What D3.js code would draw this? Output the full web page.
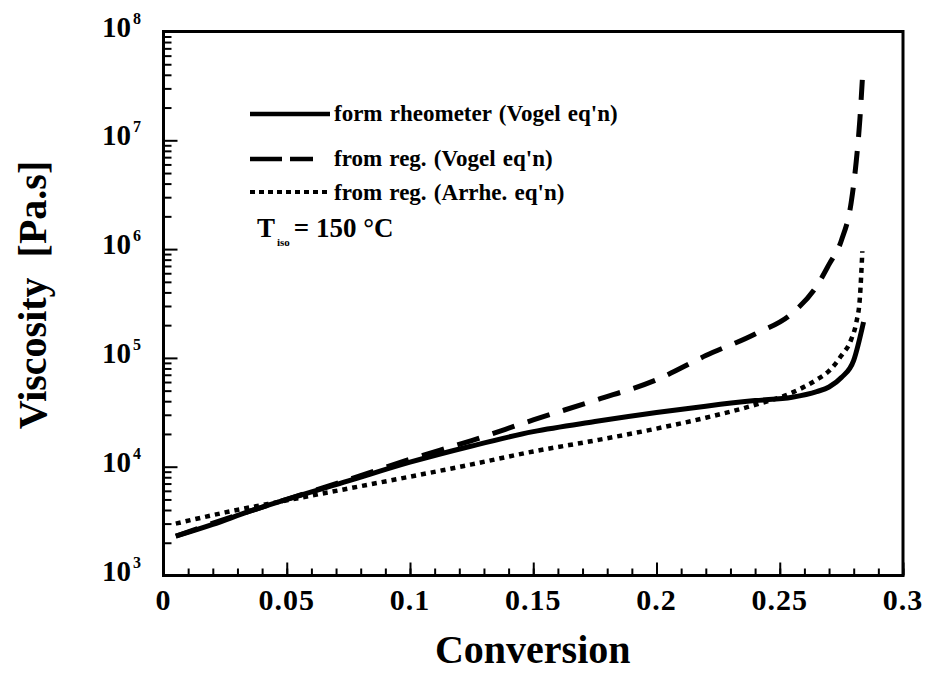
<!DOCTYPE html>
<html>
<head>
<meta charset="utf-8">
<script src="https://cdn.jsdelivr.net/npm/d3@7"></script>
<style>
  body { margin: 0; background: #fff; }
  svg { display: block; font-family: "Liberation Serif", "Times New Roman", serif; font-weight: bold; }
</style>
</head>
<body>
<svg width="928" height="675"></svg>
<script>
// Viscosity vs conversion, T_iso = 150 C
var rheoX = [0.005, 0.02, 0.035, 0.05, 0.075, 0.1, 0.125, 0.15, 0.175, 0.2, 0.22, 0.24, 0.255, 0.265, 0.27, 0.275, 0.28, 0.284];
var rheoVisc = [2300, 2950, 3900, 5000, 7400, 11000, 15500, 21000, 26000, 31500, 36000, 40500, 43500, 49000, 54000, 66000, 95000, 214000];

var vogelX = [0.005, 0.025, 0.05, 0.075, 0.1, 0.125, 0.15, 0.175, 0.2, 0.22, 0.24, 0.255, 0.265, 0.27, 0.275, 0.279, 0.281, 0.2825, 0.2835];
var vogelVisc = [2300, 3300, 5000, 7600, 11700, 17400, 26900, 40700, 63000, 105000, 166000, 257000, 457000, 724000, 1200000, 2700000, 6300000, 15500000, 36000000];

var arrheX = [0.005, 0.025, 0.05, 0.075, 0.1, 0.125, 0.15, 0.175, 0.2, 0.22, 0.24, 0.255, 0.265, 0.27, 0.275, 0.279, 0.281, 0.2825, 0.2835];
var arrheVisc = [3000, 3800, 4900, 6300, 8100, 10500, 13800, 17400, 22400, 28200, 37000, 47900, 63100, 75900, 105000, 148000, 209000, 355000, 955000];

var xTicks = [0, 0.05, 0.1, 0.15, 0.2, 0.25, 0.3];
var yDecades = [3, 4, 5, 6, 7, 8];

var legendLabels = ["form rheometer (Vogel eq'n)", "from reg. (Vogel eq'n)", "from reg. (Arrhe. eq'n)"];

var svg = d3.select("svg");
var plotLeft = 163.5, plotRight = 903, plotTop = 31.5, plotBottom = 575.5;

var x = d3.scaleLinear().domain([0, 0.3]).range([plotLeft, plotRight]);
var y = d3.scaleLog().domain([1e3, 1e8]).range([plotBottom, plotTop]);

// minor ticks
var xMinor = d3.range(0, 31).map(function(i) { return i / 100; });
var yMinor = [];
yDecades.slice(0, -1).forEach(function(k) {
  for (var m = 2; m <= 9; m++) yMinor.push(m * Math.pow(10, k));
});

function styleAxis(g) {
  g.select(".domain").remove();
  g.selectAll("line").attr("stroke", "#000").attr("stroke-width", 2);
  g.selectAll("text").remove();
}

svg.append("g").attr("transform", "translate(0," + plotBottom + ")")
  .call(d3.axisBottom(x).tickValues(xMinor).tickSize(-7)).call(styleAxis);
svg.append("g").attr("transform", "translate(0," + plotBottom + ")")
  .call(d3.axisBottom(x).tickValues(xTicks).tickSize(-13)).call(styleAxis);
svg.append("g").attr("transform", "translate(" + plotLeft + ",0)")
  .call(d3.axisLeft(y).tickValues(yMinor).tickSize(-8)).call(styleAxis);
svg.append("g").attr("transform", "translate(" + plotLeft + ",0)")
  .call(d3.axisLeft(y).tickValues(yDecades.map(function(k) { return Math.pow(10, k); })).tickSize(-14)).call(styleAxis);

// frame
svg.append("rect")
  .attr("x", plotLeft).attr("y", plotTop)
  .attr("width", plotRight - plotLeft).attr("height", plotBottom - plotTop)
  .attr("fill", "none").attr("stroke", "#000").attr("stroke-width", 3);

// x tick labels
svg.append("g").selectAll("text")
  .data(xTicks)
  .enter().append("text")
  .attr("x", function(d) { return x(d); })
  .attr("y", 610)
  .attr("text-anchor", "middle")
  .attr("font-size", 30)
  .attr("letter-spacing", 1)
  .text(function(d) { return d === 0 ? "0" : String(+d.toFixed(2)); });

// y tick labels 10^k
svg.append("g").selectAll("text")
  .data(yDecades)
  .enter().append("text")
  .attr("x", 131)
  .attr("y", function(d) { return y(Math.pow(10, d)) + 5; })
  .attr("text-anchor", "end")
  .attr("font-size", 29)
  .text("10");
svg.append("g").selectAll("text")
  .data(yDecades)
  .enter().append("text")
  .attr("x", 133)
  .attr("y", function(d) { return y(Math.pow(10, d)) - 8; })
  .attr("font-size", 16)
  .text(function(d) { return d; });

// axis titles
svg.append("text")
  .attr("x", (plotLeft + plotRight) / 2 - 0.5)
  .attr("y", 663)
  .attr("text-anchor", "middle")
  .attr("font-size", 40)
  .text("Conversion");

svg.append("text")
  .attr("transform", "translate(46,295) rotate(-90)")
  .attr("text-anchor", "middle")
  .attr("font-size", 40)
  .style("white-space", "pre")
  .text("Viscosity  [Pa.s]");

// curves
var line = d3.line()
  .x(function(d) { return x(d[0]); })
  .y(function(d) { return y(d[1]); })
  .curve(d3.curveMonotoneX);

var series = [
  { xs: rheoX, vs: rheoVisc, dash: null, width: 5 },
  { xs: vogelX, vs: vogelVisc, dash: "23,14", width: 5 },
  { xs: arrheX, vs: arrheVisc, dash: "5,5", width: 4.5 }
];

series.forEach(function(s) {
  var pts = s.xs.map(function(v, i) { return [v, s.vs[i]]; });
  svg.append("path")
    .datum(pts)
    .attr("d", line)
    .attr("fill", "none")
    .attr("stroke", "#000")
    .attr("stroke-width", s.width)
    .attr("stroke-dasharray", s.dash);
});

// legend
var legY = [114, 159, 192];
var legTextY = [121, 166, 200];
var legEnd = [330, 313, 330];
var legDash = [null, "32,8", "5,4"];
legendLabels.forEach(function(lab, i) {
  svg.append("line")
    .attr("x1", 250).attr("x2", legEnd[i])
    .attr("y1", legY[i]).attr("y2", legY[i])
    .attr("stroke", "#000")
    .attr("stroke-width", i === 2 ? 4 : 4.5)
    .attr("stroke-dasharray", legDash[i]);
  svg.append("text")
    .attr("x", 334).attr("y", legTextY[i])
    .attr("font-size", 23)
    .attr("word-spacing", 1.5)
    .text(lab);
});

var tiso = svg.append("text").attr("x", 257).attr("y", 237).attr("font-size", 27);
tiso.append("tspan").text("T");
tiso.append("tspan").attr("font-size", 11).attr("dy", 9).attr("dx", 2).text("iso");
tiso.append("tspan").attr("dy", -9).attr("dx", 4).text("= 150 °C");
</script>
</body>
</html>
